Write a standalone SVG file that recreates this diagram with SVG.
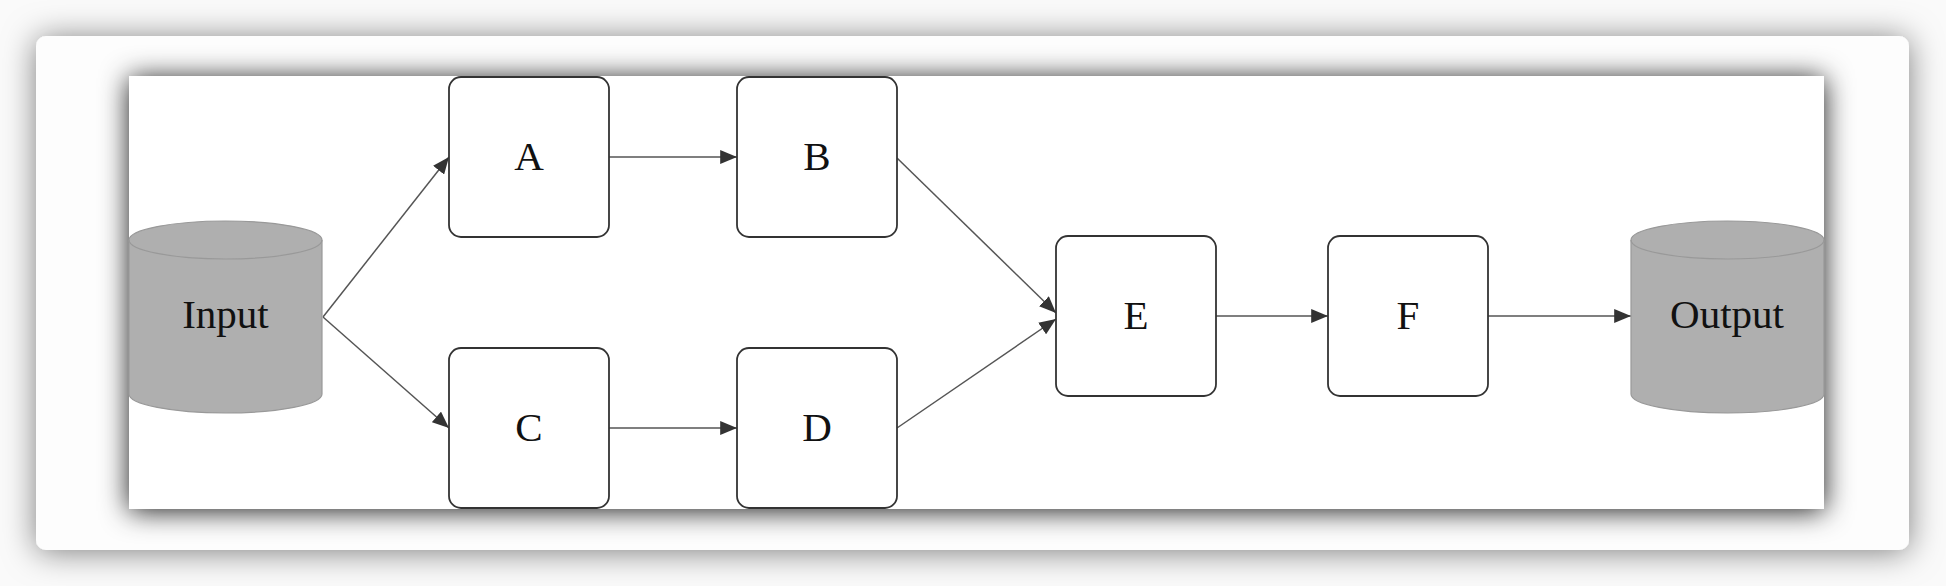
<svg xmlns="http://www.w3.org/2000/svg" width="1946" height="586" viewBox="0 0 1946 586">
  <defs>
    <filter id="cardShadow" x="-10%" y="-20%" width="120%" height="140%">
      <feDropShadow dx="0" dy="2" stdDeviation="16" flood-color="#000" flood-opacity="0.5"/>
    </filter>
    <filter id="panelShadow" x="-10%" y="-25%" width="120%" height="150%">
      <feDropShadow dx="0" dy="2" stdDeviation="14" flood-color="#000" flood-opacity="0.9"/>
    </filter>
    <marker id="arrow" viewBox="0 0 12 10" refX="12" refY="5" markerWidth="17" markerHeight="14" markerUnits="userSpaceOnUse" orient="auto">
      <path d="M0,0 L12,5 L0,10 z" fill="#333"/>
    </marker>
    <style>
      .box { fill: #fff; stroke: #333; stroke-width: 1.8; }
      .cyl { fill: #afafaf; stroke: #999; stroke-width: 1.2; }
      .lbl { font-family: "Liberation Serif", "Times New Roman", serif; font-size: 41px; fill: #111; text-anchor: middle; }
      .edge { stroke: #555; stroke-width: 1.5; fill: none; marker-end: url(#arrow); }
    </style>
  </defs>

  <rect x="0" y="0" width="1946" height="586" fill="#fafafa"/>
  <rect x="36" y="36" width="1873" height="514" rx="10" fill="#fdfdfd" filter="url(#cardShadow)"/>
  <rect x="129" y="76" width="1695" height="433" fill="#fff" filter="url(#panelShadow)"/>

  <g id="connectors">
    <line class="edge" x1="323" y1="317" x2="449" y2="157"/>
    <line class="edge" x1="323" y1="317" x2="449" y2="428"/>
    <line class="edge" x1="609" y1="157" x2="737" y2="157"/>
    <line class="edge" x1="609" y1="428" x2="737" y2="428"/>
    <line class="edge" x1="897" y1="158" x2="1056" y2="313"/>
    <line class="edge" x1="897" y1="428" x2="1056" y2="319"/>
    <line class="edge" x1="1216" y1="316" x2="1328" y2="316"/>
    <line class="edge" x1="1488" y1="316" x2="1631" y2="316"/>
  </g>

  <g id="input">
    <path class="cyl" d="M129,240 L129,394 A96.5,19 0 0 0 322,394 L322,240 A96.5,19 0 0 0 129,240 z"/>
    <path class="cyl" d="M129,240 A96.5,19 0 0 0 322,240" style="fill:none"/>
    <text class="lbl" x="225.5" y="328">Input</text>
  </g>

  <g id="nodeA">
    <rect class="box" x="449" y="77" width="160" height="160" rx="12"/>
    <text class="lbl" x="529" y="170">A</text>
  </g>
  <g id="nodeB">
    <rect class="box" x="737" y="77" width="160" height="160" rx="12"/>
    <text class="lbl" x="817" y="170">B</text>
  </g>
  <g id="nodeC">
    <rect class="box" x="449" y="348" width="160" height="160" rx="12"/>
    <text class="lbl" x="529" y="441">C</text>
  </g>
  <g id="nodeD">
    <rect class="box" x="737" y="348" width="160" height="160" rx="12"/>
    <text class="lbl" x="817" y="441">D</text>
  </g>
  <g id="nodeE">
    <rect class="box" x="1056" y="236" width="160" height="160" rx="12"/>
    <text class="lbl" x="1136" y="329">E</text>
  </g>
  <g id="nodeF">
    <rect class="box" x="1328" y="236" width="160" height="160" rx="12"/>
    <text class="lbl" x="1408" y="329">F</text>
  </g>

  <g id="output">
    <path class="cyl" d="M1631,240 L1631,394 A96.5,19 0 0 0 1824,394 L1824,240 A96.5,19 0 0 0 1631,240 z"/>
    <path class="cyl" d="M1631,240 A96.5,19 0 0 0 1824,240" style="fill:none"/>
    <text class="lbl" x="1727" y="328">Output</text>
  </g>
</svg>
